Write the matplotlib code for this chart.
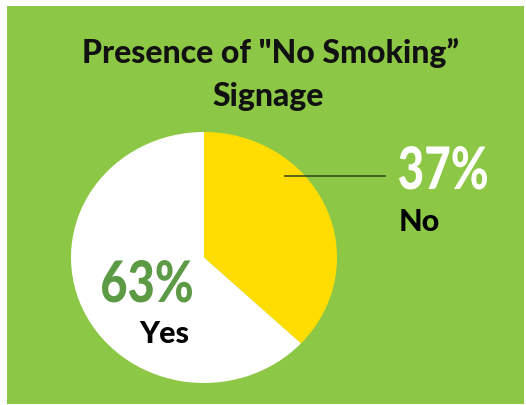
import matplotlib
matplotlib.use("Agg")
import matplotlib.pyplot as plt
from matplotlib.patches import Rectangle, PathPatch
from matplotlib.lines import Line2D
from matplotlib.textpath import TextPath
from matplotlib.font_manager import FontProperties
from matplotlib.transforms import Affine2D, IdentityTransform

# data
labels = ["No", "Yes"]
shares = [37, 63]
pct_text = ["37%", "63%"]
title_lines = ["Presence of \"No Smoking\u201d", "Signage"]

GREEN = "#8dc746"
YELLOW = "#ffdd00"
DARK_GREEN = "#5c9a45"

W, H = 526, 406


def fx(px):
    return px / W


def fy(py):
    return 1 - py / H


def condensed_text(fig, s, left, baseline, cap_h, width, color):
    # no narrow bold font installed, so squeeze a text path instead
    fp = FontProperties(family="Lato", weight="black")
    tp = TextPath((0, 0), s, size=1, prop=fp)
    ext = tp.get_extents()
    tr = (Affine2D().translate(-ext.x0, 0)
          .scale(width / ext.width, cap_h / ext.y1)
          .translate(left, H - baseline))
    fig.add_artist(PathPatch(tr.transform_path(tp), transform=IdentityTransform(),
                             facecolor=color, edgecolor="none", zorder=5))


fig = plt.figure(figsize=(W / 100, H / 100), dpi=100, facecolor="white")
fig.patches.append(Rectangle((fx(7), fy(405)), fx(524) - fx(7), fy(7) - fy(405),
                             transform=fig.transFigure, facecolor=GREEN,
                             edgecolor="none", zorder=-1))

# pie slightly wider than tall, like the reference
ax = fig.add_axes([fx(71), fy(384), fx(337) - fx(71), fy(133) - fy(384)])
ax.pie(shares, colors=[YELLOW, "white"], startangle=90, counterclock=False,
       wedgeprops=dict(linewidth=0))
ax.set_aspect("auto")
ax.set_xlim(-1, 1)
ax.set_ylim(-1, 1)
ax.axis("off")

bold = ["Lato", "DejaVu Sans"]

fig.text(fx(270), fy(63), title_lines[0], ha="center", va="baseline",
         fontsize=23, fontweight="black", family=bold, color="#111111")
fig.text(fx(268), fy(106), title_lines[1], ha="center", va="baseline",
         fontsize=23, fontweight="black", family=bold, color="#111111")

# leader line for the "No" slice
fig.add_artist(Line2D([fx(285), fx(385)], [fy(177), fy(177)],
                      transform=fig.transFigure, color="#3b4a22", linewidth=1.2))

condensed_text(fig, pct_text[0], 399, 190, 43, 88, "white")
fig.text(fx(399), fy(231), labels[0], ha="left", va="baseline",
         fontsize=22, fontweight="black", family=bold, color="black")
condensed_text(fig, pct_text[1], 102, 303, 42, 90, DARK_GREEN)
fig.text(fx(139), fy(343), labels[1], ha="left", va="baseline",
         fontsize=22, fontweight="black", family=bold, color="black")

fig.savefig("out.png", dpi=100, facecolor="white")
